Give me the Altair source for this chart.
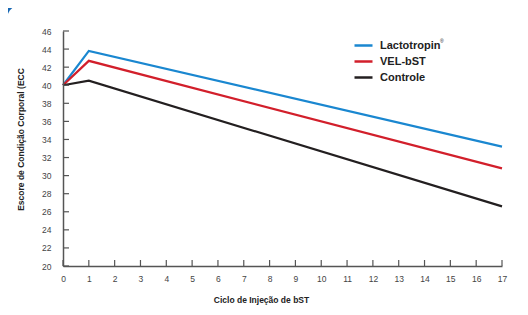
import altair as alt
import pandas as pd

# ---- data ----
x_cycles = [0, 1, 17]
lacto = [40.0, 43.8, 33.2]
vel = [40.0, 42.7, 30.8]
ctrl = [40.0, 40.5, 26.6]
series_names = ["Lactotropin", "VEL-bST", "Controle"]
series_colors = ["#1a87d0", "#d21f2b", "#231f20"]
x_ticks = list(range(0, 18))
y_ticks = list(range(20, 47, 2))

rows = []
for name, vals in zip(series_names, [lacto, vel, ctrl]):
    for x, v in zip(x_cycles, vals):
        rows.append({"ciclo": x, "ecc": v, "serie": name})
df = pd.DataFrame(rows)

W, H = 439, 235
FONT = "Liberation Sans"
AXC = "#555555"

xs = alt.Scale(domain=[0, 17], nice=False, zero=False)
ys = alt.Scale(domain=[20, 46], nice=False, zero=False)

x_axis = alt.Axis(
    values=x_ticks, title="Ciclo de Injeção de bST", ticks=False,
    labelPadding=8, grid=False, zindex=1, labelFlush=False, labelOverlap=False,
    titleX=198, titleY=29, titleAnchor="middle", titleAlign="center",
)
y_axis = alt.Axis(
    values=y_ticks, title="Escore de Condição Corporal (ECC", ticks=False,
    labelPadding=12, grid=False, zindex=1, labelOverlap=False,
    titleX=-38, titleY=108, titleAlign="center",
)

card = alt.Chart(pd.DataFrame({"k": [0]})).mark_rect(
    color="white", cornerRadius=14
).encode(x=alt.value(-56), x2=alt.value(480), y=alt.value(-26), y2=alt.value(300))

lines = alt.Chart(df).mark_line(strokeWidth=2.2).encode(
    x=alt.X("ciclo:Q", scale=xs, axis=x_axis, title="Ciclo de Injeção de bST"),
    y=alt.Y("ecc:Q", scale=ys, axis=y_axis, title="Escore de Condição Corporal (ECC"),
    color=alt.Color("serie:N", scale=alt.Scale(domain=series_names, range=series_colors),
                    legend=alt.Legend(
                        orient="none", legendX=290, legendY=4, title=None,
                        symbolType="stroke", symbolSize=324, symbolStrokeWidth=2.5,
                        labelFont=FONT, labelFontWeight="bold", labelFontSize=11,
                        labelColor="#222222", labelOffset=6, rowPadding=0,
                    )),
)

xtick_df = pd.DataFrame({"t": x_ticks})
ytick_df = pd.DataFrame({"t": y_ticks})
xticks = alt.Chart(xtick_df).mark_rule(color=AXC, strokeWidth=1.2).encode(
    x=alt.X("t:Q", scale=xs, axis=x_axis, title="Ciclo de Injeção de bST"),
    y=alt.value(H), y2=alt.value(H - 6))
yticks = alt.Chart(ytick_df).mark_rule(color=AXC, strokeWidth=1.2).encode(
    y=alt.Y("t:Q", scale=ys, axis=y_axis, title="Escore de Condição Corporal (ECC"),
    x=alt.value(0), x2=alt.value(6))

reg = alt.Chart(pd.DataFrame({"r": ["®"]})).mark_text(
    font=FONT, fontSize=5, color="#222222", align="left", baseline="middle"
).encode(text="r:N", x=alt.value(377), y=alt.value(10))

chart = alt.layer(card, lines, xticks, yticks, reg).properties(
    width=W, height=H,
    autosize=alt.AutoSizeParams(type="none"),
    padding={"left": 55, "top": 23, "right": 18, "bottom": 41},
    background="#1767b3",
).configure_view(stroke=None).configure_axis(
    domainColor=AXC, domainWidth=1.5,
    labelFont=FONT, labelFontSize=8.5, labelColor="#444444",
    titleFont=FONT, titleFontSize=8.5, titleFontWeight="bold", titleColor="#222222",
)

chart.save("out.html", embed_options={"renderer": "svg", "actions": False})
